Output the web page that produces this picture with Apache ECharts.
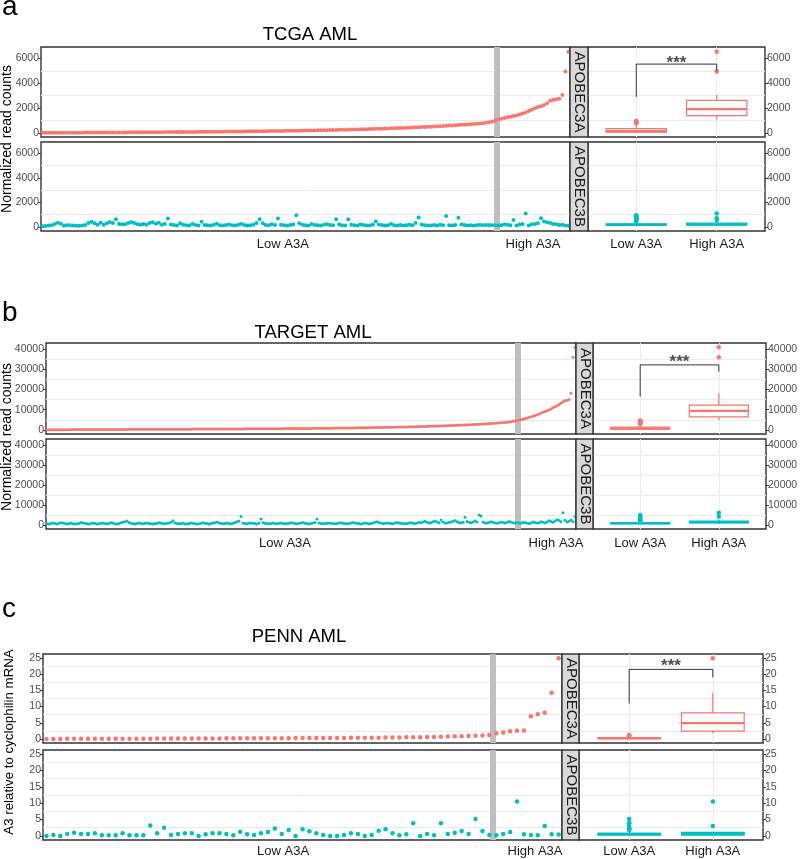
<!DOCTYPE html>
<html><head><meta charset="utf-8">
<script src="https://cdn.jsdelivr.net/npm/echarts@6/dist/echarts.min.js"></script>
<style>html,body{margin:0;padding:0;background:#fff}#c{width:800px;height:859px}</style>
</head><body><div id="c"></div><script>
// ---------------- DATA ----------------
const groupLabels = ['Low A3A', 'High A3A'];
const geneLabels = ['APOBEC3A', 'APOBEC3B'];

// TCGA AML
const tcgaLowA = [3,5,6,8,9,11,12,14,15,17, 18,19,21,22,24,25,27,28,30,31, 33,34,36,37,38,40,41,43,45,46, 48,49,51,52,54,55,57,59,60,62,
 64,66,67,69,71,73,75,77,79,81, 83,85,87,89,91,93,96,98,100,103, 105,108,110,113,115,118,121,124,127,130, 133,136,139,142,145,149,152,156,159,163,
 167,171,174,178,182,187,191,195,200,204, 209,214,219,224,229,234,240,245,251,257, 263,269,275,282,289,296,303,310,318,326, 334,342,350,359,368,377,386,396,406,416,
 426,437,448,459,470,482,494,506,519,532, 545,559,573,588,603,618,634,650,667,684, 702,720,739,758,778,810,850,905,975];
const tcgaHighA = [1100,1150,1200,1260,1310,1360,1400,1480,1560,1650,1760,1860,1980,2080,2160,2250,2400,2600,2680,2720,2760,3050,4950,6550];
const tcgaB = [60,80,110,140,250,350,270,90,140,130, 110,90,90,110,160,330,430,300,190,350, 190,300,400,330,620,250,220,220,330,400, 330,220,190,250,190,330,380,270,350,190, 250,680,
 200,150,120,300,180,130,110,250,150,120,420,160,130,110,180,260,140,120,
 150,210,130,110,170,240,160,120,140,190,330,620,300,160,130,220,150,680,170,130,
 120,160,210,950,300,180,140,120,250,160,130,110,180,230,150,130,630,200,140,110,
 630,170,130,120,200,150,120,110,170,450,200,150,120,140,250,130,110,160,120,140,
 180,130,330,765,200,130,120,110,150,120,170,140,900,130,110,160,745,200,150,120,
 130,110,140,180,130,150,160,140,130,120,140,200,170,130,570,110,200,250,1090,120,
 220,250,300,710,450,380,330,250,220,160,180,120,100];
const tcgaBoxLowA = [3, 59, 145, 342, 758];
const tcgaBoxHighA = [1100, 1390, 1920, 2620, 3050];
const tcgaOutLowA = [778, 810, 850, 905, 975];
const tcgaOutHighA = [4950, 6550];
const tcgaBoxLowB = [60, 120, 170, 250, 430];
const tcgaBoxHighB = [100, 138, 210, 308, 450];
const tcgaOutLowB = [450, 620, 620, 630, 630, 680, 680, 745, 765, 900, 950];
const tcgaOutHighB = [570, 710, 1090];
const tcgaBracket = [2900, 5550, 5000];
const tcgaStarsY = 5600;
const tcgaYTicks = [0, 2000, 4000, 6000];
const tcgaYMinor = [1000, 3000, 5000];
const tcgaXLabelPos = [79.6, 161.4];

// TARGET AML
const targetLowA = [25,38,52,61,70,78,85,93,99,106, 112,117,123,128,134,139,143,148,152,157, 161,166,170,174,178,183,187,191,195,199,
 203,207,211,215,219,223,226,230,234,238, 241,245,249,252,256,260,263,267,271,275, 278,282,286,289,293,297,300,304,308,312,
 316,319,323,327,331,335,339,343,347,351, 355,359,363,367,371,376,380,384,388,393, 397,402,406,411,415,420,425,429,434,439,
 444,449,454,459,464,469,474,480,485,491, 496,502,508,514,520,526,532,538,545,551, 558,564,571,578,585,592,599,607,614,622,
 630,638,646,654,663,671,680,689,698,707, 716,726,735,745,755,765,775,786,796,807, 818,829,841,852,864,876,888,901,913,926,
 939,952,966,980,994,1008,1023,1038,1053,1068, 1084,1100,1116,1133,1150,1167,1185,1203,1221,1240, 1259,1279,1299,1319,1340,1361,1383,1405,1428,1451,
 1475,1499,1524,1549,1575,1601,1628,1656,1684,1713, 1742,1772,1803,1834,1866,1899,1933,1967,2002,2038, 2075,2113,2151,2191,2231,2273,2315,2359,2403,2449,
 2496,2544,2593,2644,2696,2749,2804,2860,2918,2977, 3038,3101,3166,3232,3301,3372,3445,3521,3599,3680, 3800,3930,4070,4220,4400,4620];
const targetHighA = [4800,5050,5300,5600,5900,6200,6500,6800,7150,7500,7900,8300,8700,9100,9500,9900,10400,10900,11400,12000,12600,13200,13900,14400,14700,15000,18200,36000,41000];
const targetB = [600,450,700,900,650,500,800,1100,900,700,500,650,850,600,400,550,750,1200,1000,800,
 600,500,700,900,650,450,600,800,1000,750,550,700,1100,900,600,500,750,1050,1300,1600,
 1900,1200,800,600,500,700,900,650,550,800,1000,750,600,500,650,850,1100,900,700,600,
 800,1000,1300,2100,900,700,550,650,800,600,500,700,950,800,600,450,600,850,1050,800,
 650,500,700,900,1100,1400,1000,800,600,750,900,700,550,800,1200,1600,2000,4200,900,700,
 600,800,1000,850,650,500,900,3000,1100,800,650,550,700,900,750,600,800,1000,700,550,
 650,850,1100,900,700,600,800,950,1150,800,650,500,700,900,1200,3000,1000,750,600,700,
 850,1000,800,650,550,700,900,1100,850,700,600,750,950,1200,1000,800,650,500,700,900,
 800,600,700,1000,1300,1600,1200,900,700,850,1000,800,650,600,900,1200,1000,800,700,600,
 750,900,1100,850,700,900,1300,1100,1500,1800,1300,1000,1200,1600,2000,1500,1100,2500,1400,1000,
 900,1200,1500,1800,2200,1600,1200,1000,1300,3800,1700,1300,1100,1400,1900,1500,5000,4500,1400,1000,
 900,1200,1600,1300,1000,800,1100,1400,1200,900,1300,1700,1400,1100,900,1200,1000,800,1300,1100,
 900,700,1000,1400,1200,900,1100,1600,1300,1000,1500,2100,1700,1300,1900,2600,2200,1600,6100,2300,1500,1800,2500,1600,4200];
const targetBoxLowA = [25, 311, 610, 1388, 2977];
const targetBoxHighA = [4800, 6400, 9400, 12300, 18200];
const targetOutLowA = [3038,3101,3166,3232,3301,3372,3445,3521,3599,3680,3800,3930,4070,4220,4400,4620];
const targetOutHighA = [36000, 41000];
const targetBoxLowB = [400, 650, 850, 1150, 1900];
const targetBoxHighB = [700, 1000, 1400, 1900, 2600];
const targetOutLowB = [2000, 2000, 2100, 2200, 2500, 3000, 3000, 3800, 4200, 4500, 5000];
const targetOutHighB = [4200, 6100];
const targetBracket = [16500, 32200, 28800];
const targetStarsY = 33400;
const targetYTicks = [0, 10000, 20000, 30000, 40000];
const targetYMinor = [5000, 15000, 25000, 35000];
const targetXLabelPos = [120, 255.5];

// PENN AML
const pennLowA = [0.01,0.02,0.02,0.03,0.04,0.04,0.05,0.05,0.06,0.07, 0.07,0.08,0.08,0.09,0.10,0.10,0.11,0.12,0.12,0.13,
 0.14,0.14,0.15,0.16,0.16,0.17,0.18,0.19,0.19,0.20, 0.21,0.22,0.22,0.23,0.24,0.25,0.26,0.27,0.28,0.29,
 0.30,0.31,0.32,0.33,0.35,0.36,0.38,0.39,0.41,0.43, 0.45,0.47,0.50,0.53,0.56,0.60,0.64,0.69,0.74,0.80,
 0.86,0.93,1.00,1.10,1.25];
const pennHighA = [1.75, 2.0, 2.35, 2.55, 2.6, 7.0, 7.6, 8.1, 14.3, 24.9];
const pennB = [0,0.3,0,0.6,1.0,0.6,0.6,0.8,0.2,0.2, 0.2,0.8,0.2,0.2,0.2,3.2,0.8,2.5,0.3,0.6,
 0.8,0.8,0,0.5,0.8,0.8,0.6,0.2,1.3,0.5, 0.3,0.8,1.2,2.3,0.6,1.8,0,2.0,1.4,0.8,
 0.3,0,0,0.3,0.8,0.6,0,0.3,1.6,2.0, 0.8,0.2,0.5,3.9,0,0.6,0.2,3.9,0.6,1.0,
 1.5,0.6,5.2,1.5,0.3,0.2,0.6,1.2,10.5,0.5, 0.3,0.2,3.0,0.5,0.4];
const pennBoxLowA = [0.01, 0.11, 0.22, 0.41, 0.86];
const pennBoxHighA = [1.75, 2.45, 4.9, 8.05, 14.3];
const pennOutLowA = [0.93, 1.0, 1.1, 1.25];
const pennOutHighA = [24.9];
const pennBoxLowB = [0, 0.2, 0.6, 0.8, 1.6];
const pennBoxHighB = [0.2, 0.33, 0.5, 1.05, 1.2];
const pennOutLowB = [1.8, 2.0, 2.0, 2.3, 2.5, 3.2, 3.9, 3.9, 5.2];
const pennOutHighB = [3.0, 10.5];
const pennBracket = [11.0, 21.5, 19.0];
const pennStarsY = 22.5;
const pennYTicks = [0, 5, 10, 15, 20, 25];
const pennYMinor = [2.5, 7.5, 12.5, 17.5, 22.5];
const pennXLabelPos = [35.2, 71.6];

// ---------------- STYLE / LAYOUT ----------------
const RED = '#F8766D', CYAN = '#00BFC4';
const FONT = '"Liberation Sans", Arial, Helvetica, sans-serif';
const GRIDC = '#ebebeb', BORDER = '#333333';

const panels = [
  { letter: 'a', title: 'TCGA AML', yTitle: 'Normalized read counts',
    lowA: tcgaLowA, highA: tcgaHighA, b: tcgaB, yMin: -330, yMax: 6930, yTicks: tcgaYTicks, yMinor: tcgaYMinor, xLabelPos: tcgaXLabelPos,
    boxA: [tcgaBoxLowA, tcgaBoxHighA], outA: [tcgaOutLowA, tcgaOutHighA], boxB: [tcgaBoxLowB, tcgaBoxHighB], outB: [tcgaOutLowB, tcgaOutHighB],
    bracket: tcgaBracket, starsY: tcgaStarsY,
    L: { sx: 41, sRight: 570, strip: 18, bRight: 765, rows: [[47, 137], [142, 231]], letterY: 7, titleX: 310, titleY: 35, yTitleX: 7, yTitleY: 139, xm: 7, dot: 4, yFont: 14 } },
  { letter: 'b', title: 'TARGET AML', yTitle: 'Normalized read counts',
    lowA: targetLowA, highA: targetHighA, b: targetB, yMin: -2050, yMax: 43050, yTicks: targetYTicks, yMinor: targetYMinor, xLabelPos: targetXLabelPos,
    boxA: [targetBoxLowA, targetBoxHighA], outA: [targetOutLowA, targetOutHighA], boxB: [targetBoxLowB, targetBoxHighB], outB: [targetOutLowB, targetOutHighB],
    bracket: targetBracket, starsY: targetStarsY,
    L: { sx: 46, sRight: 576, strip: 17, bRight: 766, rows: [[343, 434], [439, 529]], letterY: 313, titleX: 313, titleY: 333, yTitleX: 7, yTitleY: 437, xm: 8, dot: 3, yFont: 14 } },
  { letter: 'c', title: 'PENN AML', yTitle: 'A3 relative to cyclophilin mRNA',
    lowA: pennLowA, highA: pennHighA, b: pennB, yMin: -1.25, yMax: 26.25, yTicks: pennYTicks, yMinor: pennYMinor, xLabelPos: pennXLabelPos,
    boxA: [pennBoxLowA, pennBoxHighA], outA: [pennOutLowA, pennOutHighA], boxB: [pennBoxLowB, pennBoxHighB], outB: [pennOutLowB, pennOutHighB],
    bracket: pennBracket, starsY: pennStarsY,
    L: { sx: 43, sRight: 562, strip: 17, bRight: 763, rows: [[654, 743], [750, 840]], letterY: 609, titleX: 299, titleY: 637, yTitleX: 9, yTitleY: 742, xm: 5, dot: 4.5, yFont: 13.3 } }
];

function renderBox(params, api) {
  const x = api.value(0);
  const pt = i => api.coord([x, api.value(i)]);
  const lo = pt(1), q1 = pt(2), md = pt(3), q3 = pt(4), hi = pt(5);
  const w = api.size([0.75, 0])[0];
  const c = api.visual('color');
  const cx = lo[0];
  return { type: 'group', children: [
    { type: 'line', shape: { x1: cx, y1: hi[1], x2: cx, y2: q3[1] }, style: { stroke: c, lineWidth: 1.2 } },
    { type: 'line', shape: { x1: cx, y1: q1[1], x2: cx, y2: lo[1] }, style: { stroke: c, lineWidth: 1.2 } },
    { type: 'rect', shape: { x: cx - w / 2, y: q3[1], width: w, height: Math.max(q1[1] - q3[1], 0) }, style: { fill: '#fff', stroke: c, lineWidth: 1.2 } },
    { type: 'line', shape: { x1: cx - w / 2, y1: md[1], x2: cx + w / 2, y2: md[1] }, style: { stroke: c, lineWidth: 2.4 } }
  ] };
}

const grid = [], xAxis = [], yAxis = [], series = [], graphic = [];

function yAxesFor(gi, p, pos) {
  const main = yAxis.length;
  yAxis.push({ type: 'value', gridIndex: gi, min: p.yMin, max: p.yMax, position: pos,
    axisLine: { show: false },
    axisTick: { show: true, length: 3, customValues: p.yTicks, lineStyle: { color: BORDER, width: 1 } },
    axisLabel: { show: true, customValues: p.yTicks, fontSize: 10.5, color: '#4d4d4d', fontFamily: FONT, margin: 2, formatter: v => String(v) },
    splitLine: { show: false } });
  yAxis.push({ type: 'value', gridIndex: gi, min: p.yMin, max: p.yMax, position: pos === 'left' ? 'right' : 'left',
    axisLine: { show: false }, axisTick: { show: false, customValues: p.yMinor }, axisLabel: { show: false },
    splitLine: { show: true, lineStyle: { color: GRIDC, width: 1 } } });
  return main;
}

panels.forEach(p => {
  const L = p.L;
  const n = p.lowA.length + p.highA.length;
  const bx = L.sRight + L.strip;
  const aVals = p.lowA.concat(p.highA);
  const sets = [aVals, p.b];
  const boxes = [p.boxA, p.boxB];
  const outs = [p.outA, p.outB];
  const cols = [RED, CYAN];
  L.rows.forEach((r, ri) => {
    const h = r[1] - r[0];
    // ---- scatter grid
    const gS = grid.length;
    grid.push({ left: L.sx, top: r[0], width: L.sRight - L.sx, height: h, show: true, borderColor: BORDER, borderWidth: 1.4, backgroundColor: '#fff', containLabel: false, outerBoundsMode: 'none' });
    const xS = xAxis.length;
    xAxis.push({ type: 'value', gridIndex: gS, min: 0.5, max: n + 0.5, axisLine: { show: false }, axisTick: { show: false }, splitLine: { show: false },
      axisLabel: ri === 1 ? { show: true, customValues: p.xLabelPos, margin: L.xm, fontSize: 13, color: '#1a1a1a', fontFamily: FONT,
        formatter: v => { const k = p.xLabelPos.findIndex(q => Math.abs(q - v) < 1e-6); return k >= 0 ? groupLabels[k] : ''; } } : { show: false } });
    const yS = yAxesFor(gS, p, 'left');
    series.push({ type: 'scatter', xAxisIndex: xS, yAxisIndex: yS, silent: true, z: 3,
      data: sets[ri].map((v, i) => [i + 1, v]), symbolSize: L.dot, itemStyle: { color: cols[ri], opacity: 1 },
      markLine: { silent: true, z: 1, symbol: ['none', 'none'], label: { show: false }, animation: false,
        lineStyle: { color: '#bebebe', width: 6, type: 'solid', opacity: 1 }, emphasis: { disabled: true },
        data: [{ xAxis: p.lowA.length + 0.5 }] } });
    // ---- strip
    graphic.push({ type: 'rect', z: 50, shape: { x: L.sRight, y: r[0], width: L.strip, height: h }, style: { fill: '#d9d9d9', stroke: BORDER, lineWidth: 1.4 } });
    graphic.push({ type: 'text', z: 51, x: L.sRight + L.strip / 2 + 0.5, y: r[0] + h / 2, rotation: -Math.PI / 2,
      style: { text: geneLabels[ri], x: 0, y: 0, align: 'center', verticalAlign: 'middle', fill: '#1a1a1a', font: '15px ' + FONT } });
    // ---- box grid
    const gB = grid.length;
    grid.push({ left: bx, top: r[0], width: L.bRight - bx, height: h, show: true, borderColor: BORDER, borderWidth: 1.4, backgroundColor: '#fff', containLabel: false, outerBoundsMode: 'none' });
    const xB = xAxis.length;
    xAxis.push({ type: 'value', gridIndex: gB, min: 0.4, max: 2.6, axisLine: { show: false }, axisTick: { show: false, customValues: [1, 2] },
      splitLine: { show: true, lineStyle: { color: GRIDC, width: 1 } },
      axisLabel: ri === 1 ? { show: true, customValues: [1, 2], margin: L.xm, fontSize: 13, color: '#1a1a1a', fontFamily: FONT,
        formatter: v => groupLabels[Math.round(v) - 1] } : { show: false } });
    const yB = yAxesFor(gB, p, 'right');
    series.push({ type: 'custom', xAxisIndex: xB, yAxisIndex: yB, silent: true, z: 3, renderItem: renderBox,
      itemStyle: { color: cols[ri] }, encode: { x: 0, y: [1, 2, 3, 4, 5] },
      data: [[1].concat(boxes[ri][0]), [2].concat(boxes[ri][1])] });
    series.push({ type: 'scatter', xAxisIndex: xB, yAxisIndex: yB, silent: true, z: 4, symbolSize: 4.5, itemStyle: { color: cols[ri], opacity: 1 },
      data: outs[ri][0].map(v => [1, v]).concat(outs[ri][1].map(v => [2, v])) });
    if (ri === 0) {
      series.push({ type: 'line', xAxisIndex: xB, yAxisIndex: yB, silent: true, z: 5, symbol: 'none', lineStyle: { color: '#333', width: 1 },
        data: [[1, p.bracket[0]], [1, p.bracket[1]], [2, p.bracket[1]], [2, p.bracket[2]]] });
      series.push({ type: 'scatter', xAxisIndex: xB, yAxisIndex: yB, silent: true, z: 5, symbolSize: 1, itemStyle: { color: 'rgba(0,0,0,0)' },
        label: { show: true, position: 'inside', formatter: '***', fontSize: 17, fontWeight: 'bold', color: '#222', fontFamily: FONT },
        data: [[1.5, p.starsY]] });
    }
  });
  // texts
  graphic.push({ type: 'text', z: 60, x: 2, y: L.letterY, style: { text: p.letter, x: 0, y: 0, align: 'left', verticalAlign: 'middle', fill: '#000', font: '28px ' + FONT } });
  graphic.push({ type: 'text', z: 60, x: L.titleX, y: L.titleY, style: { text: p.title, x: 0, y: 0, align: 'center', verticalAlign: 'middle', fill: '#000', font: '18.5px ' + FONT } });
  graphic.push({ type: 'text', z: 60, x: L.yTitleX, y: L.yTitleY, rotation: Math.PI / 2, style: { text: p.yTitle, x: 0, y: 0, align: 'center', verticalAlign: 'middle', fill: '#000', font: L.yFont + 'px ' + FONT } });
});

const chart = echarts.init(document.getElementById('c'), null, { renderer: 'canvas' });
chart.setOption({ animation: false, backgroundColor: '#fff', textStyle: { fontFamily: FONT }, grid, xAxis, yAxis, series, graphic });
</script></body></html>
